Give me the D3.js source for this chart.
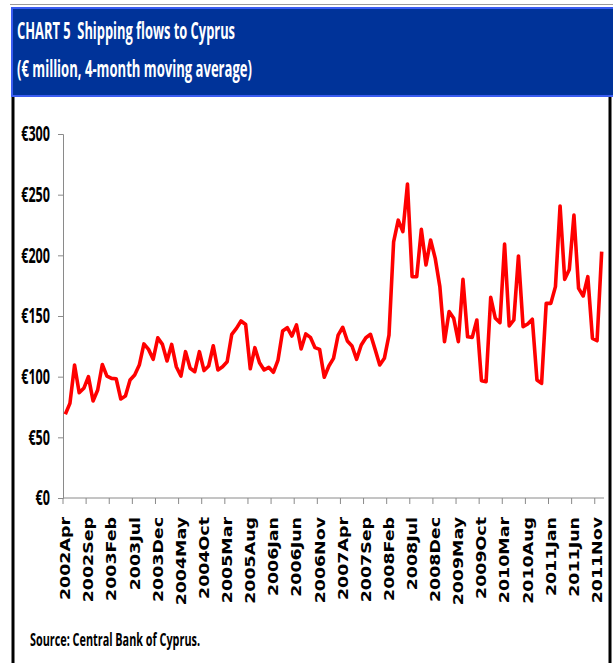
<!DOCTYPE html>
<html>
<head>
<meta charset="utf-8">
<script src="https://cdn.jsdelivr.net/npm/d3@7"></script>
<style>
  html, body { margin: 0; padding: 0; background: #fff; }
  svg { display: block; }
  .cond { font-family: "Liberation Sans Narrow", "Open Sans", "Liberation Sans", sans-serif; font-weight: bold; }
  .xlab { font-family: "DejaVu Sans", Verdana, sans-serif; font-weight: bold; }
</style>
</head>
<body>
<svg id="chart" width="613" height="663"></svg>
<script>
// Shipping flows to Cyprus, € million, 4-month moving average, monthly from 2002 Apr
const startYear = 2002;
const startMonth = 3; // April (0-based)
const monthNames = ["Jan","Feb","Mar","Apr","May","Jun","Jul","Aug","Sep","Oct","Nov","Dec"];

const flows = [
  69, 78, 109.6, 86.8, 90.4, 100, 80, 89, 110, 100.5,
  98.6, 98.3, 81.6, 84, 97.2, 101.4, 109.6, 127, 122.5, 114.3,
  132, 126.6, 112.9, 126.6, 108.2, 100.5, 120.6, 106.9, 104.1, 120.6,
  105, 108.8, 125.5, 105.5, 108.2, 112.3, 134.9, 139.8, 145.9, 143,
  106.5, 123.9, 111.5, 105.5, 107.7, 103.6, 113.7, 137.6, 140.4, 133.5,
  142.6, 122.8, 135.2, 132.4, 123.9, 122.5, 99.5, 108.8, 115.1, 134.3,
  140.7, 129.4, 125.3, 114.3, 126.1, 132.1, 134.9, 122.5, 109.6, 115.1,
  134.3, 211, 229, 219.5, 258.8, 182.4, 182.4, 221.4, 192, 212.6,
  197.5, 174.2, 128.8, 153.6, 148.1, 128.8, 180.2, 132.9, 132.4, 146.7,
  96.7, 95.9, 165.4, 148.1, 144.5, 209.3, 141.8, 146.7, 199.5, 141.2,
  143.4, 147.3, 97.3, 94.5, 160.4, 160.4, 174.2, 240.7, 180.2, 188.4,
  233.2, 172.8, 166.5, 182.4, 131.6, 129.6, 203
];

// Category labels, one per month
const months = flows.map((_, i) => {
  const m = startMonth + i;
  return (startYear + Math.floor(m / 12)) + monthNames[m % 12];
});

const xTickLabels = [
  "2002Apr","2002Sep","2003Feb","2003Jul","2003Dec","2004May","2004Oct","2005Mar",
  "2005Aug","2006Jan","2006Jun","2006Nov","2007Apr","2007Sep","2008Feb","2008Jul",
  "2008Dec","2009May","2009Oct","2010Mar","2010Aug","2011Jan","2011Jun","2011Nov"
];
const yTicks = [0, 50, 100, 150, 200, 250, 300];

const svg = d3.select("#chart");

// ---- header panel and frame ----
svg.append("line").attr("x1", 10).attr("x2", 613).attr("y1", 4.5).attr("y2", 4.5)
  .attr("stroke", "#9a9a9a").attr("stroke-width", 1);
svg.append("rect").attr("x", 12).attr("y", 8).attr("width", 610).attr("height", 88)
  .attr("fill", "#003399").attr("stroke", "#3a5cf0").attr("stroke-width", 2);
svg.append("line").attr("x1", 13).attr("x2", 13).attr("y1", 97).attr("y2", 663)
  .attr("stroke", "#000").attr("stroke-width", 3);
svg.append("line").attr("x1", 610).attr("x2", 610).attr("y1", 97).attr("y2", 663)
  .attr("stroke", "#000").attr("stroke-width", 3);

svg.append("text").attr("class", "cond").attr("x", 17).attr("y", 38.5)
  .attr("fill", "#fff").attr("font-size", 24).style("white-space", "pre")
  .attr("textLength", 218).attr("lengthAdjust", "spacingAndGlyphs")
  .text("CHART 5  Shipping flows to Cyprus");
svg.append("text").attr("class", "cond").attr("x", 17).attr("y", 77)
  .attr("fill", "#fff").attr("font-size", 24)
  .attr("textLength", 235).attr("lengthAdjust", "spacingAndGlyphs")
  .text("(€ million, 4-month moving average)");

svg.append("text").attr("class", "cond").attr("x", 30).attr("y", 646)
  .attr("fill", "#000").attr("font-size", 18)
  .attr("textLength", 170).attr("lengthAdjust", "spacingAndGlyphs")
  .text("Source: Central Bank of Cyprus.");

// ---- scales ----
const plotLeft = 63, plotRight = 604, plotTop = 134, plotBottom = 498;
const x = d3.scaleBand().domain(months).range([plotLeft, plotRight]).padding(0);
const y = d3.scaleLinear().domain([0, 300]).range([plotBottom, plotTop]);
const axisColor = "#8a8a8a";

// ---- y axis ----
const yAxis = svg.append("g").attr("transform", `translate(${plotLeft},0)`)
  .call(d3.axisLeft(y).tickValues(yTicks).tickSize(5).tickPadding(8)
    .tickFormat(d => "€" + d));
yAxis.select(".domain").attr("stroke", axisColor);
yAxis.selectAll(".tick line").attr("stroke", axisColor);
yAxis.selectAll(".tick text").attr("class", "cond").attr("font-size", 21)
  .attr("fill", "#000")
  .attr("textLength", d => String(d).length * 7.2 + 7.2)
  .attr("lengthAdjust", "spacingAndGlyphs");

// ---- x axis: baseline, ticks every 5 months at category edges ----
svg.append("line").attr("x1", plotLeft).attr("x2", plotRight)
  .attr("y1", plotBottom).attr("y2", plotBottom).attr("stroke", axisColor);
svg.append("g").selectAll("line").data(xTickLabels).join("line")
  .attr("x1", d => x(d)).attr("x2", d => x(d))
  .attr("y1", plotBottom).attr("y2", plotBottom + 6)
  .attr("stroke", axisColor);

const xl = svg.append("g").selectAll("text").data(xTickLabels).join("text")
  .attr("class", "xlab").attr("font-size", 13.5).attr("fill", "#000")
  .attr("text-anchor", "end")
  .attr("transform", d => `translate(${x(d) + x.bandwidth() / 2},517) rotate(-90)`)
  .attr("dy", "0.36em")
  .text(d => d);
// stretch labels along their length
const ref = xl.filter(d => d === "2002Apr").node().getComputedTextLength();
const stretch = 83 / ref;
xl.each(function () {
  const w = this.getComputedTextLength();
  d3.select(this).attr("textLength", w * stretch).attr("lengthAdjust", "spacingAndGlyphs");
});

// ---- series line ----
const line = d3.line()
  .x((d, i) => x(months[i]) + x.bandwidth() / 2)
  .y(d => y(d));
svg.append("path").datum(flows)
  .attr("fill", "none").attr("stroke", "#ff0000").attr("stroke-width", 3.6)
  .attr("stroke-linejoin", "round")
  .attr("d", line);
</script>
</body>
</html>
